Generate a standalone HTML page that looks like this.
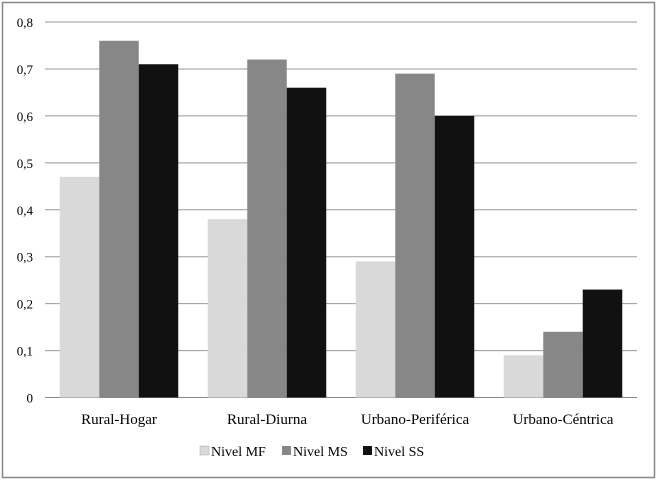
<!DOCTYPE html>
<html><head><meta charset="utf-8"><style>
body{margin:0;background:#fff}
svg{display:block;font-family:"Liberation Serif",serif}
</style></head><body>
<svg width="657" height="481" xmlns="http://www.w3.org/2000/svg">
<rect x="2.5" y="2.5" width="652" height="475" fill="#fff" stroke="#888" stroke-width="1.5"/>
<g id="grid"></g><g id="bars"></g><g id="labels"></g>
<g font-size="14" fill="#000">
<rect x="200" y="446" width="9" height="9" fill="#d9d9d9" stroke="#aaa" stroke-width="0.5"/>
<text x="211" y="456">Nivel MF</text>
<rect x="282" y="446" width="9" height="9" fill="#878787"/>
<text x="293" y="456">Nivel MS</text>
<rect x="363" y="446" width="9" height="9" fill="#111"/>
<text x="374" y="456">Nivel SS</text>
</g>
</svg>
<script>
const categories=["Rural-Hogar","Rural-Diurna","Urbano-Periférica","Urbano-Céntrica"];
const seriesMF=[0.47,0.38,0.29,0.09];
const seriesMS=[0.76,0.72,0.69,0.14];
const seriesSS=[0.71,0.66,0.60,0.23];
const tickLabels=["0","0,1","0,2","0,3","0,4","0,5","0,6","0,7","0,8"];
const NS="http://www.w3.org/2000/svg";
const x0=45,x1=637,y0=397.5,y1=22,maxV=0.8;
const yS=v=>y0-(v/maxV)*(y0-y1);
const gw=(x1-x0)/categories.length,bw=39.5;
function mk(t,a,p){const e=document.createElementNS(NS,t);for(const k in a)e.setAttribute(k,a[k]);p.appendChild(e);return e;}
const grid=document.getElementById('grid'),bars=document.getElementById('bars'),labels=document.getElementById('labels');
tickLabels.forEach((t,i)=>{const v=i*0.1,y=yS(v);
const l=mk('line',{x1:x0,x2:x1,y1:y,y2:y,stroke:i==0?'#888':'#999','stroke-width':1},grid);


const tx=mk('text',{x:33,y:y+5,'text-anchor':'end','font-size':13},labels);tx.textContent=t;

});
const series=[[seriesMF,'#d9d9d9','mf'],[seriesMS,'#878787','ms'],[seriesSS,'#111','ss']];
categories.forEach((c,i)=>{const gx=x0+i*gw,start=gx+(gw-3*bw)/2;
series.forEach(([d,col,n],j)=>{const y=yS(d[i]);
const r=mk('rect',{x:start+j*bw,y:y,width:bw,height:y0-y,fill:col},bars);

});
const tx=mk('text',{x:gx+gw/2,y:424,'text-anchor':'middle','font-size':15},labels);tx.textContent=c;

});
</script>
</body></html>
